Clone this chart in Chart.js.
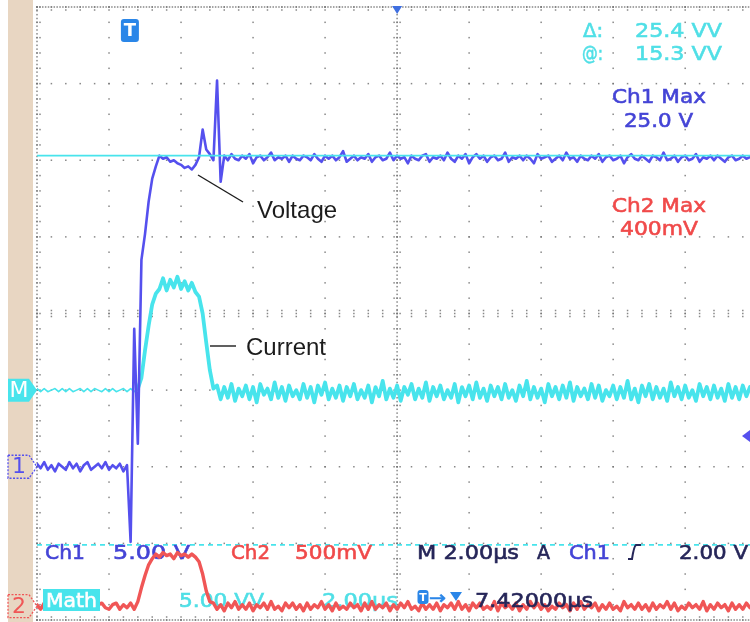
<!DOCTYPE html>
<html>
<head>
<meta charset="utf-8">
<title>Ch1 / Ch2 / Math capture</title>
<script src="https://cdn.jsdelivr.net/npm/chart.js@4.4.1/dist/chart.umd.min.js"></script>
<style>
  html, body { margin: 0; padding: 0; background: #fff; overflow: hidden; }
  #scope { display: block; }
</style>
</head>
<body>
<canvas id="scope" width="750" height="622"></canvas>
<script>
// ── Capture data ──────────────────────────────────────────────────────────────
// record every 0.1 µs (time base 2.00 µs/div)
const SAMPLE_US = 0.1;

// Ch1 – voltage, V (5.00 V/div)
const ch1Volts = [
  0.2, -0.1, 0.3, -0.2, 0.1, -0.3, 0.2, 0.0, -0.2, 0.3,
  -0.1, 0.2, -0.3, 0.1, 0.3, -0.2, 0.0, 0.2, -0.1, 0.3,
  -0.2, 0.1, -0.1, 0.2, -0.3, 0.1,
  -4.9, 9.0, 1.5, 13.5, 15.2, 17.3, 18.8, 19.6, 20.3,
  20.1, 20.2, 19.9, 20.0, 19.8, 19.7, 19.5, 19.6, 19.4, 19.7, 20.2,
  22.0, 20.7, 20.4, 20.0, 25.2, 18.6,
  20.3, 20.0, 20.4, 20.1, 20.0, 20.3, 20.1, 20.4, 19.8, 20.2,
  20.3, 20.0, 20.2, 20.5, 20.0, 20.2, 20.1, 20.3, 19.9, 20.3,
  20.1, 20.0, 20.3, 20.2, 20.0, 20.4, 20.1, 19.9, 20.3, 20.1,
  20.3, 20.0, 20.2, 20.6, 19.9, 20.1, 20.3, 20.0, 20.2, 20.1,
  20.4, 19.9, 20.2, 20.3, 20.0, 20.1, 20.5, 20.0, 20.3, 20.1,
  20.2, 19.8, 20.3, 20.1, 20.0, 20.3, 20.4, 19.9, 20.2, 20.1,
  20.3, 20.0, 20.5, 20.1, 19.9, 20.3, 20.1, 20.4, 19.8, 20.2,
  20.4, 20.1, 20.3, 19.9, 20.2, 20.3, 20.0, 20.1, 20.5, 19.9,
  20.2, 20.1, 20.3, 20.0, 20.3, 20.1, 19.8, 20.4, 20.1, 20.2,
  20.3, 19.9, 20.1, 20.3, 20.0, 20.5, 20.1, 20.2, 19.9, 20.3,
  20.1, 20.0, 20.3, 20.1, 20.4, 19.9, 20.2, 20.3, 20.0, 20.1,
  20.3, 19.8, 20.2, 20.4, 20.1, 20.0, 20.3, 20.1, 19.9, 20.3,
  20.2, 20.0, 20.5, 20.0, 20.1, 20.3, 19.9, 20.2, 20.3, 20.0,
  20.1, 20.4, 19.9, 20.2, 20.1, 20.3, 20.0, 20.3, 20.1, 19.9,
  20.2, 20.3, 20.0, 20.1, 20.3, 20.1, 20.2
];

// Math – Ch1 x Ch2, VV (5.00 VV/div)
const mathVV = [
  0.1, -0.1, 0.1, -0.1, 0.0, 0.1, -0.1, 0.1, -0.1, 0.1,
  -0.1, 0.0, 0.1, -0.1, 0.1, -0.1, 0.1, 0.0, -0.1, 0.1,
  -0.1, 0.1, -0.1, 0.0, 0.1, -0.1, 0.1, -0.1, 0.1,
  0.8, 2.6, 4.2, 5.6, 6.3, 6.6,
  7.3, 6.5, 7.2, 6.7, 7.4, 6.6, 7.1, 6.5, 7.0, 6.4,
  6.1, 5.0, 3.1, 1.3, 0.1,
  0.3, -0.6, 0.2, -0.5, 0.4, -0.7, 0.1, -0.4, 0.3, -0.6,
  0.2, -0.8, 0.4, -0.3, 0.1, -0.6, 0.5, -0.5, 0.2, -0.7,
  0.3, -0.4, 0.0, -0.6, 0.4, -0.5, 0.2, -0.8, 0.3, -0.3,
  0.5, -0.6, 0.1, -0.5, 0.3, -0.7, 0.2, -0.4, 0.4, -0.6,
  0.0, -0.5, 0.3, -0.8, 0.2, -0.4, 0.6, -0.6, 0.1, -0.5,
  0.3, -0.7, 0.2, -0.3, 0.4, -0.6, 0.1, -0.5, 0.5, -0.7,
  0.2, -0.4, 0.3, -0.6, 0.0, -0.5, 0.4, -0.8, 0.2, -0.4,
  0.3, -0.6, 0.5, -0.5, 0.1, -0.7, 0.3, -0.4, 0.2, -0.6,
  0.4, -0.5, 0.0, -0.7, 0.3, -0.4, 0.6, -0.6, 0.2, -0.5,
  0.1, -0.8, 0.4, -0.4, 0.2, -0.6, 0.3, -0.5, 0.5, -0.7,
  0.2, -0.4, 0.1, -0.6, 0.4, -0.5, 0.3, -0.7, 0.0, -0.4,
  0.3, -0.6, 0.2, -0.5, 0.6, -0.6, 0.1, -0.8, 0.3, -0.4,
  0.4, -0.6, 0.2, -0.5, 0.1, -0.7, 0.5, -0.4, 0.2, -0.6,
  0.3, -0.5, 0.0, -0.7, 0.4, -0.4, 0.2, -0.6, 0.3, -0.5,
  0.1, -0.7, 0.4, -0.5, 0.2, -0.6, 0.3, -0.4, 0.2
];

// Ch2 – current, V (500 mV/div)
const ch2Volts = [
  0.01, -0.02, 0.02, -0.01, 0.02, -0.02, 0.01, -0.01, 0.02, -0.02,
  0.00, 0.02, -0.02, 0.01, -0.01, 0.02, -0.02, 0.01, 0.02, -0.01,
  -0.02, 0.01, 0.02, -0.02, 0.01, -0.01, 0.02, -0.02,
  0.03, 0.12, 0.20, 0.27, 0.31,
  0.34, 0.32, 0.35, 0.33, 0.34, 0.31, 0.35, 0.33, 0.34, 0.32, 0.34, 0.32,
  0.29, 0.21, 0.10, 0.03,
  0.02, -0.02, 0.01, -0.03, 0.02, -0.01, 0.03, -0.02, 0.01, -0.02,
  0.02, -0.03, 0.01, -0.01, 0.02, -0.02, 0.03, -0.02, 0.00, -0.03,
  0.02, -0.01, 0.02, -0.02, 0.01, -0.03, 0.02, -0.02, 0.01, -0.01,
  0.03, -0.02, 0.01, -0.03, 0.02, -0.02, 0.00, -0.02, 0.02, -0.01,
  0.01, -0.03, 0.02, -0.02, 0.03, -0.02, 0.01, -0.01, 0.02, -0.03,
  0.01, -0.02, 0.02, -0.01, 0.03, -0.02, 0.00, -0.03, 0.02, -0.02,
  0.01, -0.02, 0.02, -0.03, 0.01, -0.01, 0.02, -0.02, 0.03, -0.02,
  0.01, -0.03, 0.02, -0.01, 0.02, -0.02, 0.00, -0.02, 0.03, -0.03,
  0.02, -0.01, 0.01, -0.02, 0.02, -0.03, 0.01, -0.02, 0.03, -0.01,
  0.02, -0.02, 0.01, -0.03, 0.00, -0.02, 0.02, -0.01, 0.01, -0.03,
  0.02, -0.02, 0.03, -0.02, 0.01, -0.01, 0.02, -0.03, 0.01, -0.02,
  0.02, -0.02, 0.00, -0.03, 0.03, -0.01, 0.01, -0.02, 0.02, -0.02,
  0.01, -0.03, 0.02, -0.02, 0.01, -0.01, 0.03, -0.02, 0.02, -0.03,
  0.00, -0.02, 0.02, -0.01, 0.01, -0.02, 0.03, -0.03, 0.01, -0.02,
  0.02, -0.01, 0.01, -0.03, 0.02, -0.02, 0.01, -0.02, 0.02, -0.01
];

// cursors (on Math), trigger
const cursorVV      = [15.3, -10.1];
const triggerLevelV = 2.0;
const triggerUs     = 2.58;

// what part of each channel fits on the 8-div screen
const timeRange = [0, 19.8];
const ch1Range  = [-10, 30];
const mathRange = [-15, 25];
const ch2Range  = [-0.09, 3.91];
const divRange  = [-4, 4];

// ── Look ──────────────────────────────────────────────────────────────────────
const COL = {
  ch1: '#5550ee', math: '#48e4ec', ch2: '#f05656',
  txtBlue: '#4444d6', txtCyan: '#4fdfe6', txtRed: '#f04a4a', txtDark: '#262659',
  grid: 'rgba(115,115,115,0.85)', bezel: '#e8d6c2', tIcon: '#2a86e8'
};
const RO_FONT = '"DejaVu Sans", sans-serif';

// readout strings: [text, left, right, centre y, colour]
const readoutsUnder = [
  ['Δ:',      583, 603, 30,  'txtCyan'],
  ['25.4 VV', 635, 722, 30,  'txtCyan'],
  ['@:',      582, 603, 53,  'txtCyan'],
  ['15.3 VV', 635, 722, 53,  'txtCyan'],
  ['Ch1 Max', 612, 706, 96,  'txtBlue'],
  ['25.0 V',  624, 693, 120, 'txtBlue'],
  ['Ch2 Max', 612, 706, 205, 'txtRed'],
  ['400mV',   620, 698, 228, 'txtRed'],
  ['Ch1',     45,  85,  552, 'txtBlue'],
  ['5.00 V',  113, 190, 552, 'txtBlue'],
  ['Ch2',     231, 270, 552, 'txtRed'],
  ['500mV',   295, 372, 552, 'txtRed'],
  ['M 2.00µs', 417, 519, 552, 'txtDark'],
  ['A',       537, 550, 552, 'txtDark'],
  ['Ch1',     569, 610, 552, 'txtBlue'],
  ['2.00 V',  679, 748, 552, 'txtDark'],
  ['5.00 VV', 179, 264, 600, 'txtCyan'],
  ['2.00µs',  322, 398, 600, 'txtCyan']
];

function fitText(ctx, str, x0, x1, yc, color, size, font) {
  ctx.font = `${size}px ${font || RO_FONT}`;
  ctx.fillStyle = color;
  ctx.strokeStyle = color;
  ctx.lineWidth = 0.6;
  ctx.textBaseline = 'alphabetic';
  const w = ctx.measureText(str).width;
  ctx.save();
  ctx.translate(x0, yc + size * 0.36);
  ctx.scale((x1 - x0) / w, 1);
  ctx.fillText(str, 0, 0);
  ctx.strokeText(str, 0, 0);
  ctx.restore();
}

function marker(ctx, yc, fill, stroke, label, textColor) {
  const x0 = 8, tip = 37, h = 23;
  ctx.beginPath();
  ctx.moveTo(x0, yc - h / 2);
  ctx.lineTo(tip - 8, yc - h / 2);
  ctx.lineTo(tip, yc);
  ctx.lineTo(tip - 8, yc + h / 2);
  ctx.lineTo(x0, yc + h / 2);
  ctx.closePath();
  if (fill) { ctx.fillStyle = fill; ctx.fill(); }
  if (stroke) {
    ctx.setLineDash([2, 1.5]);
    ctx.strokeStyle = stroke; ctx.lineWidth = 1.3; ctx.stroke();
    ctx.setLineDash([]);
  }
  ctx.font = `22px ${RO_FONT}`;
  ctx.fillStyle = textColor;
  ctx.textAlign = 'center'; ctx.textBaseline = 'middle';
  ctx.fillText(label, 19, yc + 1);
  ctx.textAlign = 'left';
}

function tIcon(ctx, cx, top, w, h, size) {
  ctx.fillStyle = COL.tIcon;
  ctx.beginPath();
  ctx.roundRect(cx - w / 2, top, w, h, 3);
  ctx.fill();
  ctx.fillStyle = '#fff';
  ctx.font = `bold ${size}px ${RO_FONT}`;
  ctx.textAlign = 'center'; ctx.textBaseline = 'middle';
  ctx.fillText('T', cx, top + h / 2 + 1);
  ctx.textAlign = 'left';
}

// ── Screen plugin: bezel, graticule, readouts, markers ───────────────────────
const scopeScreen = {
  id: 'scopeScreen',
  beforeDraw(chart) {
    const { ctx, chartArea: a } = chart;
    ctx.save();
    ctx.fillStyle = '#fff';
    ctx.fillRect(0, 0, chart.width, chart.height);
    ctx.fillStyle = COL.bezel;
    ctx.fillRect(8, 0, a.left - 12, chart.height);
    ctx.restore();
  },
  beforeDatasetsDraw(chart) {
    const { ctx, chartArea: a, scales: { x, div, yM } } = chart;
    ctx.save();
    ctx.fillStyle = COL.grid;
    const dot = (px, py) => ctx.fillRect(px - 0.75, py - 0.75, 1.5, 1.5);

    // vertical major lines
    for (let t = 0; t <= 20.001; t += 2) {
      const px = x.getPixelForValue(t);
      if (px > a.right + 0.5) continue;
      const edge = t === 0, centre = Math.abs(t - 10) < 1e-6;
      for (let d = -4; d <= 4.001; d += 0.2) {
        const py = div.getPixelForValue(d);
        dot(px, py);
        if (edge || centre) { dot(px + 3, py); if (centre) dot(px - 3, py); }
      }
      if (edge || centre) {
        for (let d = -4; d <= 4.001; d += 0.05) dot(px, div.getPixelForValue(d));
      }
    }
    // horizontal major lines
    for (let d = -4; d <= 4.001; d += 1) {
      const py = div.getPixelForValue(d);
      const edge = d === 4 || d === -4, centre = d === 0;
      for (let t = 0; t <= 20.001; t += 0.4) {
        const px = x.getPixelForValue(t);
        if (px > a.right) break;
        dot(px, py);
        if (centre) { dot(px, py - 3); dot(px, py + 3); }
        if (d === 4) dot(px, py + 3);
        if (d === -4) dot(px, py - 3);
      }
      if (edge) {
        for (let t = 0; t <= 20.001; t += 0.08) {
          const px = x.getPixelForValue(t);
          if (px > a.right) break;
          dot(px, py);
        }
      }
    }

    // unselected cursor (dashed)
    ctx.strokeStyle = COL.math; ctx.lineWidth = 1.6;
    ctx.setLineDash([5, 4]);
    const yb = yM.getPixelForValue(cursorVV[1]);
    ctx.beginPath(); ctx.moveTo(a.left, yb); ctx.lineTo(a.right, yb); ctx.stroke();
    ctx.setLineDash([]);

    // readouts sitting under the traces
    readoutsUnder.forEach(([s, x0, x1, yc, c]) => fitText(ctx, s, x0, x1, yc, COL[c], 20));

    // slope symbol of the trigger readout
    ctx.strokeStyle = COL.txtDark; ctx.lineWidth = 2;
    ctx.beginPath();
    ctx.moveTo(628, 559); ctx.lineTo(632, 559);
    ctx.quadraticCurveTo(634, 546, 636, 545); ctx.lineTo(641, 545);
    ctx.stroke();
    ctx.restore();
  },
  afterDatasetsDraw(chart) {
    const { ctx, chartArea: a, scales: { x, y1, yM, y2 } } = chart;
    ctx.save();

    // selected cursor (solid)
    const ya = yM.getPixelForValue(cursorVV[0]);
    ctx.strokeStyle = COL.math; ctx.lineWidth = 1.8;
    ctx.beginPath(); ctx.moveTo(a.left, ya); ctx.lineTo(a.right, ya); ctx.stroke();

    // ground markers
    marker(ctx, yM.getPixelForValue(0), COL.math, null, 'M', '#fff');
    marker(ctx, y1.getPixelForValue(0), null, COL.ch1, '1', COL.ch1);
    marker(ctx, y2.getPixelForValue(0), null, COL.ch2, '2', COL.ch2);

    // trigger position icon, delay mark, trigger level
    tIcon(ctx, x.getPixelForValue(triggerUs), 19, 18, 23, 18);
    const cx = x.getPixelForValue(10);
    ctx.fillStyle = '#3f6fe0';
    ctx.beginPath(); ctx.moveTo(cx - 5, a.top - 1); ctx.lineTo(cx + 5, a.top - 1); ctx.lineTo(cx, a.top + 7); ctx.fill();
    const yl = y1.getPixelForValue(triggerLevelV);
    ctx.fillStyle = COL.ch1;
    ctx.beginPath(); ctx.moveTo(a.right - 8, yl); ctx.lineTo(a.right, yl - 6); ctx.lineTo(a.right, yl + 6); ctx.fill();

    // Math label box
    ctx.fillStyle = COL.math;
    ctx.fillRect(43, 589, 57, 22);
    fitText(ctx, 'Math', 46, 97, 600, '#fff', 20);

    // trigger delay readout
    tIcon(ctx, 423, 590, 11, 14, 11);
    fitText(ctx, '→', 429, 446, 598, COL.tIcon, 18);
    ctx.fillStyle = COL.tIcon;
    ctx.beginPath(); ctx.moveTo(450, 592); ctx.lineTo(462, 592); ctx.lineTo(456, 601); ctx.fill();
    fitText(ctx, '7.42000µs', 475, 593, 600, COL.txtDark, 20);

    // annotations
    ctx.strokeStyle = '#1c1c1c'; ctx.lineWidth = 1.4;
    ctx.beginPath(); ctx.moveTo(198, 175); ctx.lineTo(243, 202); ctx.stroke();
    ctx.beginPath(); ctx.moveTo(210, 346); ctx.lineTo(236, 346); ctx.stroke();
    ctx.font = '24px "Liberation Sans", Arial, sans-serif';
    ctx.fillStyle = '#1c1c1c';
    ctx.textBaseline = 'middle';
    ctx.fillText('Voltage', 257, 211);
    ctx.fillText('Current', 246, 348);
    ctx.restore();
  }
};

// ── Chart ─────────────────────────────────────────────────────────────────────
const sampleTimes = ch1Volts.map((_, i) => +(i * SAMPLE_US).toFixed(2));
const toPoints = vals => vals.map((v, i) => ({ x: sampleTimes[i], y: v }));

// quiet pre-trigger Math record is drawn thinner than the busy part
const MATH_QUIET_UNTIL = 28;

const trace = (label, vals, axis, color, width, order, extra) => Object.assign({
  label, data: toPoints(vals), yAxisID: axis,
  borderColor: color, borderWidth: width, order,
  borderJoinStyle: 'round', borderCapStyle: 'round',
  pointRadius: 0, tension: 0, fill: false
}, extra);

new Chart(document.getElementById('scope'), {
  type: 'line',
  data: {
    datasets: [
      trace('Ch1',  ch1Volts, 'y1', COL.ch1,  2.6, 1),
      trace('Math', mathVV,   'yM', COL.math, 3.8, 2, {
        segment: { borderWidth: s => s.p0DataIndex < MATH_QUIET_UNTIL ? 1.6 : 3.8 }
      }),
      trace('Ch2',  ch2Volts, 'y2', COL.ch2,  3.4, 3)
    ]
  },
  options: {
    responsive: false,
    animation: false,
    events: [],
    layout: { padding: { left: 37, top: 7, right: 0, bottom: 2 } },
    plugins: { legend: { display: false }, tooltip: { enabled: false } },
    scales: {
      x:   { type: 'linear', min: timeRange[0], max: timeRange[1], display: false },
      y1:  { type: 'linear', min: ch1Range[0],  max: ch1Range[1],  display: false },
      yM:  { type: 'linear', min: mathRange[0], max: mathRange[1], display: false },
      y2:  { type: 'linear', min: ch2Range[0],  max: ch2Range[1],  display: false },
      div: { type: 'linear', axis: 'y', min: divRange[0], max: divRange[1], display: false }
    }
  },
  plugins: [scopeScreen]
});
</script>
</body>
</html>
